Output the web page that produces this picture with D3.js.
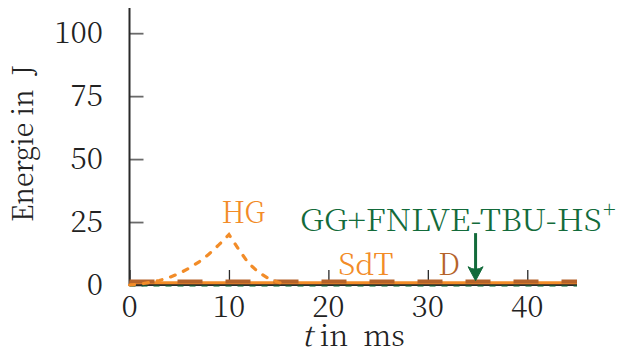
<!DOCTYPE html>
<html>
<head>
<meta charset="utf-8">
<script src="https://cdn.jsdelivr.net/npm/d3@7"></script>
<style>
  html, body { margin: 0; padding: 0; background: #fff; }
  svg { display: block; }
</style>
</head>
<body>
<svg id="chart" width="636" height="354"></svg>
<script>
// Energy curves over time (J vs ms)
const hgTime   = [0, 1, 2, 3, 4, 5, 6, 7, 8, 9, 10, 11, 12, 13, 14, 15, 16];
const hgEnergy = [0, 0.3, 1, 1.8, 3, 4.6, 6.7, 9.2, 12.3, 16, 20, 14, 8.5, 5, 2.5, 1, 0.3];

const flatTime = [0, 45];
const sdtEnergy = [0.9, 0.9];
const dEnergy   = [1.4, 1.4];
const ggEnergy  = [-0.4, -0.4];

const xTicks = [0, 10, 20, 30, 40];
const yTicks = [0, 25, 50, 75, 100];

// Series labels: text, anchor time, anchor energy
const labelNames  = ["HG", "SdT", "D"];
const labelTimes  = [9.25, 21.0, 31.05];
const labelValues = [24.6, 4.0, 4.0];

const ggLabel = "GG+FNLVE-TBU-HS";
const ggSup = "+";
const ggLabelTime = 17.15, ggLabelValue = 21.5;
const arrowTime = 34.8, arrowFrom = 20.6, arrowTo = 1.7;

const ORANGE = "#F28C28", BROWN = "#B5632A", GREEN = "#136B3B", AXIS = "#2a2a2a";
const FONT = "Noto Serif CJK SC";
const WEIGHT = 300;

const svg = d3.select("#chart");
const margin = {left: 129.5, top: 8, right: 59, bottom: 69};
const W = 636 - margin.left - margin.right;
const H = 354 - margin.top - margin.bottom;

const x = d3.scaleLinear().domain([0, 45]).range([margin.left, margin.left + W]);
const y = d3.scaleLinear().domain([0, 110]).range([margin.top + H, margin.top]);

const line = d3.line().x(d => x(d[0])).y(d => y(d[1]));

// Axes (tick marks point into the plot)
const xAxis = d3.axisBottom(x).tickValues(xTicks).tickSize(-15).tickFormat("").tickSizeOuter(0);
const yAxis = d3.axisLeft(y).tickValues(yTicks).tickSize(-14).tickFormat("").tickSizeOuter(0);

const gx = svg.append("g").attr("transform", `translate(0,${y(0)})`).call(xAxis);
gx.select(".domain").remove();
gx.selectAll(".tick line").attr("stroke", AXIS).attr("stroke-width", 1.3);

const gy = svg.append("g").attr("transform", `translate(${x(0)},0)`).call(yAxis);
gy.select(".domain").remove();
gy.selectAll(".tick line").attr("stroke", "#6a6a6a").attr("stroke-width", 1.8);

// Axis lines
svg.append("line").attr("x1", x(0)).attr("x2", x(0)).attr("y1", y(110)).attr("y2", y(0) + 1)
  .attr("stroke", AXIS).attr("stroke-width", 2);
svg.append("line").attr("x1", x(0)).attr("x2", x(45)).attr("y1", y(0)).attr("y2", y(0))
  .attr("stroke", AXIS).attr("stroke-width", 2);

// Series lines
svg.append("path").datum(flatTime.map((t, i) => [t, ggEnergy[i]])).attr("d", line)
  .attr("fill", "none").attr("stroke", GREEN).attr("stroke-width", 2.2).attr("stroke-dasharray", "6,6")
  .attr("opacity", 0.55);
svg.append("path").datum(flatTime.map((t, i) => [t, sdtEnergy[i]])).attr("d", line)
  .attr("fill", "none").attr("stroke", ORANGE).attr("stroke-width", 3);
svg.append("path").datum(flatTime.map((t, i) => [t, dEnergy[i]])).attr("d", line)
  .attr("fill", "none").attr("stroke", BROWN).attr("stroke-width", 4.2).attr("stroke-dasharray", "25,23")
  .attr("stroke-linecap", "butt");
svg.append("path").datum(hgTime.map((t, i) => [t, hgEnergy[i]])).attr("d", line)
  .attr("fill", "none").attr("stroke", ORANGE).attr("stroke-width", 3.2)
  .attr("stroke-dasharray", "5,9").attr("stroke-linecap", "round");

// Shared text styling
const txt = sel => sel.attr("font-family", FONT).attr("font-weight", WEIGHT);

// Tick labels
svg.append("g").selectAll("text").data(xTicks).join("text")
  .call(txt)
  .attr("x", d => x(d)).attr("y", y(0) + 32)
  .attr("text-anchor", "middle").attr("font-size", 30).attr("fill", "#222")
  .text(d => d);
svg.append("g").selectAll("text").data(yTicks).join("text")
  .call(txt)
  .attr("x", x(0) - 26.5).attr("y", d => y(d) + 10)
  .attr("text-anchor", "end").attr("font-size", 30).attr("fill", "#222")
  .text(d => d);

// Axis titles
const xt = svg.append("text").call(txt).attr("x", x(22.5)).attr("y", 346)
  .attr("text-anchor", "middle").attr("font-size", 29).attr("fill", "#222");
xt.append("tspan").attr("font-style", "italic").text("t");
xt.append("tspan").text("\u00a0in\u00a0\u00a0ms");

svg.append("text").call(txt)
  .attr("transform", `translate(33,${143.5}) rotate(-90)`)
  .attr("text-anchor", "middle").attr("font-size", 29).attr("fill", "#222")
  .attr("textLength", 157).attr("lengthAdjust", "spacingAndGlyphs")
  .text("Energie in\u00a0\u00a0J");

// Series labels
const labelColors = [ORANGE, ORANGE, BROWN];
const labelWidths = [43.3, 55, 21.7];
svg.append("g").selectAll("text").data(labelNames).join("text")
  .call(txt)
  .attr("x", (d, i) => x(labelTimes[i])).attr("y", (d, i) => y(labelValues[i]))
  .attr("font-size", 29.5).attr("fill", (d, i) => labelColors[i])
  .attr("textLength", (d, i) => labelWidths[i]).attr("lengthAdjust", "spacingAndGlyphs")
  .text(d => d);

// Annotation label with superscript
svg.append("text").call(txt).attr("x", x(ggLabelTime)).attr("y", y(ggLabelValue))
  .attr("font-size", 30).attr("fill", GREEN)
  .attr("textLength", 301.7).attr("lengthAdjust", "spacingAndGlyphs")
  .text(ggLabel);
svg.append("text").call(txt).attr("x", x(ggLabelTime) + 303).attr("y", y(ggLabelValue) - 13.5)
  .attr("font-size", 22).attr("fill", GREEN)
  .text(ggSup);

// Arrow
const ax = x(arrowTime), ay0 = y(arrowFrom), ay1 = y(arrowTo);
svg.append("line").attr("x1", ax).attr("x2", ax).attr("y1", ay0).attr("y2", ay1 - 8)
  .attr("stroke", GREEN).attr("stroke-width", 3);
svg.append("path")
  .attr("d", `M${ax},${ay1} L${ax - 7.5},${ay1 - 14} Q${ax},${ay1 - 9} ${ax + 7.5},${ay1 - 14} Z`)
  .attr("fill", GREEN).attr("stroke", GREEN).attr("stroke-width", 1).attr("stroke-linejoin", "round");
</script>
</body>
</html>
